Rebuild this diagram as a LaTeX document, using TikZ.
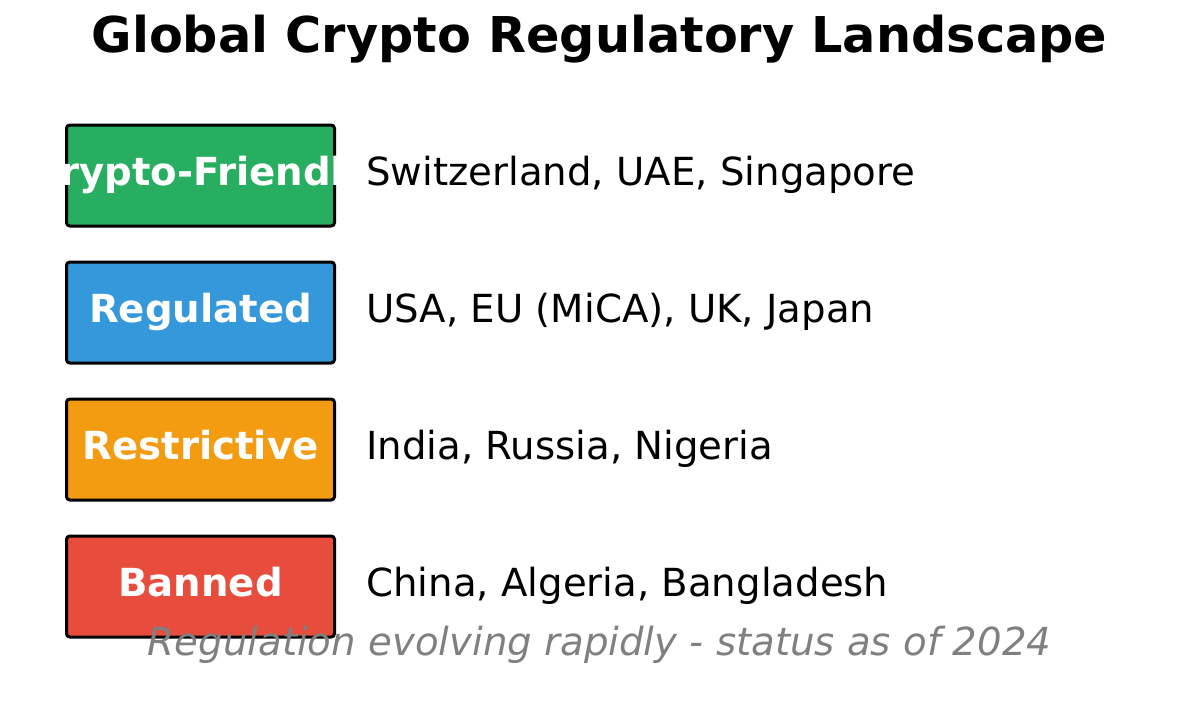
\documentclass[tikz,border=0pt]{standalone}
\usepackage{fontspec}
\setmainfont{DejaVu Sans}

\definecolor{friendlygreen}{HTML}{27AE60}
\definecolor{regulatedblue}{HTML}{3498DB}
\definecolor{restrictorange}{HTML}{F39C12}
\definecolor{bannedred}{HTML}{E74C3C}
\definecolor{notegray}{HTML}{808080}

\tikzset{
  tier/.style={draw=black,line width=2.25pt,rounded corners=2.5pt,minimum width=201pt,minimum height=75.75pt,inner sep=0pt},
  tiertext/.style={anchor=base,inner sep=0pt,yshift=-7.5pt,text=white,font=\fontsize{29pt}{34pt}\selectfont\bfseries},
  countries/.style={anchor=base west,inner sep=0pt,font=\fontsize{29pt}{34pt}\selectfont}
}

\begin{document}
\begin{tikzpicture}[x=0.75pt,y=-0.75pt]

\useasboundingbox (0,0) rectangle (1200,703) ;

\node[font=\fontsize{37pt}{44pt}\selectfont\bfseries,anchor=base] (title) at (599.5,52) {Global Crypto Regulatory Landscape} ;

\node[tier,fill=friendlygreen] (friendly) at (200.5,175.5) {} ;
\node[tier,fill=regulatedblue] (regulated) at (200.5,312.5) {} ;
\node[tier,fill=restrictorange] (restrictive) at (200.5,449.5) {} ;
\node[tier,fill=bannedred] (banned) at (200.5,586.5) {} ;

\node[tiertext] at (friendly) {Crypto-Friendly} ;
\node[tiertext] at (regulated) {Regulated} ;
\node[tiertext] at (restrictive) {Restrictive} ;
\node[tiertext] at (banned) {Banned} ;

\node[countries] (friendlylist) at (366,185.5) {Switzerland, UAE, Singapore} ;
\node[countries] (regulatedlist) at (366,322.5) {USA, EU (MiCA), UK, Japan} ;
\node[countries] (restrictivelist) at (366,459.5) {India, Russia, Nigeria} ;
\node[countries] (bannedlist) at (366,596.5) {China, Algeria, Bangladesh} ;

\node[text=notegray,font=\fontsize{29pt}{34pt}\selectfont\itshape,anchor=base] (note) at (599.5,655) {Regulation evolving rapidly - status as of 2024} ;

\end{tikzpicture}
\end{document}
